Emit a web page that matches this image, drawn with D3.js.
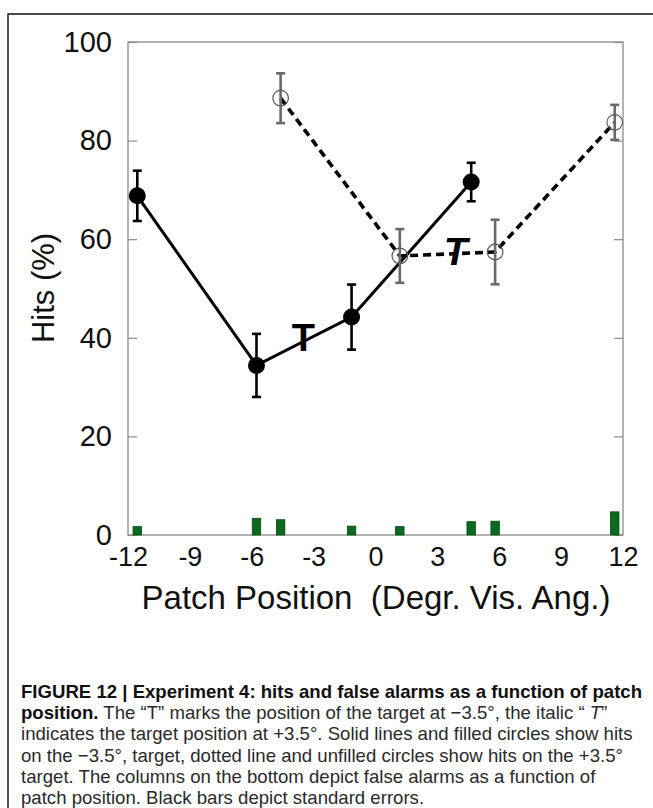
<!DOCTYPE html>
<html>
<head>
<meta charset="utf-8">
<script src="https://cdn.jsdelivr.net/npm/d3@7"></script>
<style>
  html, body { margin: 0; padding: 0; background: #fff; }
  svg { display: block; }
  text { font-family: "Liberation Sans", Arial, sans-serif; }
  .cap { font-size: 18.6px; fill: #2a2a2a; }
</style>
</head>
<body>
<svg id="fig" width="653" height="808"></svg>
<script>
// Hits for the -3.5° target (solid line, filled circles)
const leftPos  = [-11.55, -5.77, -1.16, 4.64];
const leftHits = [68.8, 34.4, 44.2, 71.6];
const leftSE   = [5.1, 6.4, 6.6, 3.9];

// Hits for the +3.5° target (dotted line, open circles)
const rightPos  = [-4.6, 1.18, 5.8, 11.6];
const rightHits = [88.6, 56.6, 57.4, 83.7];
const rightSE   = [5.05, 5.45, 6.55, 3.55];

// False alarms per patch position (green columns)
const faPos  = [-11.55, -5.77, -4.6, -1.16, 1.18, 4.64, 5.8, 11.6];
const faRate = [1.7, 3.4, 3.1, 1.8, 1.7, 2.7, 2.8, 4.7];

// Target markers
const targetPos = [-3.5, 3.5];
const targetY   = [40, 57.5];

const xTicks = [-12, -9, -6, -3, 0, 3, 6, 9, 12];
const yTicks = [0, 20, 40, 60, 80, 100];

const svg = d3.select("#fig");

// figure frame (top and left rules)
svg.append("path")
  .attr("d", "M8,808 L8,14 L653,14")
  .attr("fill", "none").attr("stroke", "#111").attr("stroke-width", 1.4);

const x = d3.scaleLinear().domain([-12, 12]).range([128, 623]);
const y = d3.scaleLinear().domain([0, 100]).range([535, 42]);

const plot = svg.append("g");

// plot box
plot.append("rect")
  .attr("x", x(-12)).attr("y", y(100))
  .attr("width", x(12) - x(-12)).attr("height", y(0) - y(100))
  .attr("fill", "none").attr("stroke", "#8a8a8a").attr("stroke-width", 1.3);

// inward ticks on left and right sides
const yAxisL = d3.axisLeft(y).tickValues(yTicks).tickSizeInner(-9).tickSizeOuter(0)
  .tickPadding(16).tickFormat((d) => String(d));
const gL = plot.append("g").attr("transform", `translate(${x(-12)},0)`).call(yAxisL);
gL.select(".domain").remove();
gL.selectAll(".tick line").attr("stroke", "#8a8a8a").attr("stroke-width", 1.2);
gL.selectAll(".tick text").attr("font-size", 29).attr("fill", "#111")
  .attr("font-family", "Liberation Sans, Arial, sans-serif");

const yAxisR = d3.axisRight(y).tickValues(yTicks).tickSizeInner(-9).tickSizeOuter(0).tickFormat("");
const gR = plot.append("g").attr("transform", `translate(${x(12)},0)`).call(yAxisR);
gR.select(".domain").remove();
gR.selectAll(".tick line").attr("stroke", "#8a8a8a").attr("stroke-width", 1.2);

const xAxis = d3.axisBottom(x).tickValues(xTicks).tickSize(0).tickPadding(12)
  .tickFormat((d) => String(d));
const gX = plot.append("g").attr("transform", `translate(0,${y(0)})`).call(xAxis);
gX.select(".domain").remove();
gX.selectAll(".tick text").attr("font-size", 27).attr("fill", "#111")
  .attr("font-family", "Liberation Sans, Arial, sans-serif");

// axis titles
svg.append("text")
  .attr("transform", `translate(54,288) rotate(-90)`)
  .attr("text-anchor", "middle").attr("font-size", 31).attr("fill", "#111")
  .text("Hits (%)");

svg.append("text")
  .attr("x", 376).attr("y", 609)
  .attr("text-anchor", "middle").attr("font-size", 33).attr("fill", "#111")
  .style("white-space", "pre")
  .text("Patch Position  (Degr. Vis. Ang.)");

// false alarm columns
const barW = x(0.41) - x(0);
plot.selectAll("rect.fa").data(faPos).enter().append("rect")
  .attr("class", "fa")
  .attr("x", (d) => x(d) - barW / 2)
  .attr("y", (d, i) => y(faRate[i]))
  .attr("width", barW)
  .attr("height", (d, i) => y(0) - y(faRate[i]))
  .attr("fill", "#0a6a1e").attr("stroke", "#064a14").attr("stroke-width", 0.8);

// connecting lines
const line = d3.line().x((d) => x(d[0])).y((d) => y(d[1]));
const leftPts = leftPos.map((p, i) => [p, leftHits[i]]);
const rightPts = rightPos.map((p, i) => [p, rightHits[i]]);

plot.append("path").datum(rightPts).attr("d", line)
  .attr("fill", "none").attr("stroke", "#000").attr("stroke-width", 3.6)
  .attr("stroke-dasharray", "8,5");

plot.append("path").datum(leftPts).attr("d", line)
  .attr("fill", "none").attr("stroke", "#000").attr("stroke-width", 3);

// error bars
function errorBars(pos, vals, se, color) {
  const g = plot.append("g").attr("stroke", color).attr("stroke-width", 2.6);
  pos.forEach((p, i) => {
    const cx = x(p), y0 = y(vals[i] - se[i]), y1 = y(vals[i] + se[i]);
    g.append("line").attr("x1", cx).attr("x2", cx).attr("y1", y0).attr("y2", y1);
    g.append("line").attr("x1", cx - 4.5).attr("x2", cx + 4.5).attr("y1", y0).attr("y2", y0);
    g.append("line").attr("x1", cx - 4.5).attr("x2", cx + 4.5).attr("y1", y1).attr("y2", y1);
  });
}
errorBars(rightPos, rightHits, rightSE, "#6a6a6a");
errorBars(leftPos, leftHits, leftSE, "#000");

// markers
plot.selectAll("circle.open").data(rightPts).enter().append("circle")
  .attr("class", "open")
  .attr("cx", (d) => x(d[0])).attr("cy", (d) => y(d[1])).attr("r", 7.8)
  .attr("fill", "none").attr("stroke", "#5a5a5a").attr("stroke-width", 1.2);

plot.selectAll("circle.filled").data(leftPts).enter().append("circle")
  .attr("class", "filled")
  .attr("cx", (d) => x(d[0])).attr("cy", (d) => y(d[1])).attr("r", 8.5)
  .attr("fill", "#000");

// target labels
plot.append("text")
  .attr("x", x(targetPos[0])).attr("y", y(targetY[0]))
  .attr("text-anchor", "middle").attr("dominant-baseline", "central")
  .attr("font-size", 38).attr("font-weight", "bold").attr("fill", "#000")
  .text("T");
plot.append("text")
  .attr("x", x(targetPos[1])).attr("y", y(targetY[1]))
  .attr("dx", 8)
  .attr("text-anchor", "middle").attr("dominant-baseline", "central")
  .attr("font-size", 39).attr("font-weight", "bold").attr("font-style", "italic").attr("fill", "#000")
  .text("T");

// caption
const capLines = [
  [["b", "FIGURE 12 | Experiment 4: hits and false alarms as a function of patch"]],
  [["b", "position."], ["n", " The “T” marks the position of the target at −3.5°, the italic “ "], ["i", "T"], ["n", "”"]],
  [["n", "indicates the target position at +3.5°. Solid lines and filled circles show hits"]],
  [["n", "on the −3.5°, target, dotted line and unfilled circles show hits on the +3.5°"]],
  [["n", "target. The columns on the bottom depict false alarms as a function of"]],
  [["n", "patch position. Black bars depict standard errors."]]
];
const capY = [698, 719, 740, 762, 783, 804];
capLines.forEach((parts, i) => {
  const t = svg.append("text").attr("class", "cap").attr("x", 21).attr("y", capY[i])
    .style("white-space", "pre");
  parts.forEach(([kind, s]) => {
    const sp = t.append("tspan").text(s);
    if (kind === "b") sp.attr("font-weight", "bold").attr("fill", "#111");
    if (kind === "i") sp.attr("font-style", "italic");
  });
});
</script>
</body>
</html>
